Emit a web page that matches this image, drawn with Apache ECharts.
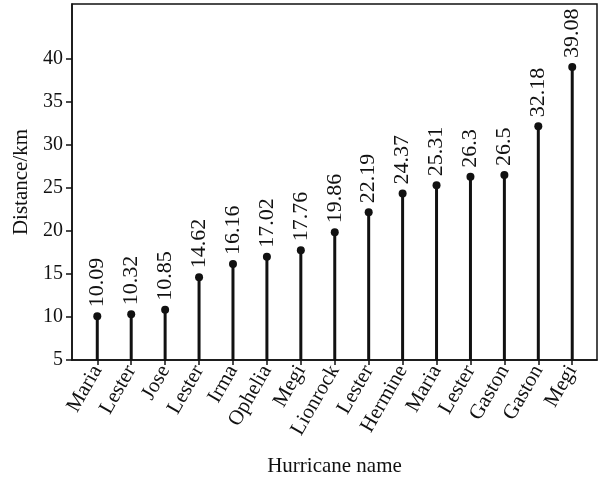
<!DOCTYPE html>
<html><head><meta charset="utf-8">
<script src="https://cdn.jsdelivr.net/npm/echarts@6/dist/echarts.min.js"></script>
<style>html,body{margin:0;padding:0;background:#fff}#c{width:609px;height:479px}</style>
</head><body><div id="c"></div>
<script>
const categories = ['Maria','Lester','Jose','Lester','Irma','Ophelia','Megi','Lionrock','Lester','Hermine','Maria','Lester','Gaston','Gaston','Megi'];
const distances = [10.09,10.32,10.85,14.62,16.16,17.02,17.76,19.86,22.19,24.37,25.31,26.3,26.5,32.18,39.08];
const yTicks = [5,10,15,20,25,30,35,40];
const xTicks = categories.map((c,i)=>i);

const pts = distances.map((v,i)=>[i,v]);
const font = 'Liberation Serif';
const chart = echarts.init(document.getElementById('c'));
chart.setOption({
  animation:false,
  grid:{left:72,right:12,top:4,bottom:119,outerBoundsMode:'none',containLabel:false,
    show:true,borderColor:'#111',borderWidth:1.5,backgroundColor:'transparent'},
  xAxis:{type:'value',min:-0.745,max:14.73,
    name:'Hurricane name',nameLocation:'middle',nameGap:96,
    nameTextStyle:{fontFamily:font,fontSize:21,color:'#111'},
    axisLine:{show:true,onZero:false,lineStyle:{color:'#111',width:1.5}},
    splitLine:{show:false},
    axisTick:{show:true,length:5,lineStyle:{color:'#111',width:1.5},customValues:xTicks},
    axisLabel:{customValues:xTicks,rotate:60,margin:7,fontFamily:font,fontSize:21,color:'#111',
      formatter:v=>categories[Math.round(v)]}
  },
  yAxis:{type:'value',min:5,max:46.4,
    name:'Distance/km',nameLocation:'middle',nameGap:39,nameRotate:90,
    nameTextStyle:{fontFamily:font,fontSize:21,color:'#111'},
    axisLine:{show:true,onZero:false,lineStyle:{color:'#111',width:1.5}},
    splitLine:{show:false},
    axisTick:{show:true,length:6,lineStyle:{color:'#111',width:1.5},customValues:yTicks},
    axisLabel:{customValues:yTicks,margin:9,fontFamily:font,fontSize:20,color:'#111'}
  },
  series:[
    {type:'bar',data:pts,barWidth:3,itemStyle:{color:'#111'},silent:true},
    {type:'scatter',data:pts,symbolSize:8,itemStyle:{color:'#111',opacity:1},
      label:{show:true,position:'top',rotate:90,align:'left',verticalAlign:'middle',distance:5,
        fontFamily:font,fontSize:22,color:'#111',formatter:p=>String(p.value[1])}}
  ]
});
</script></body></html>
